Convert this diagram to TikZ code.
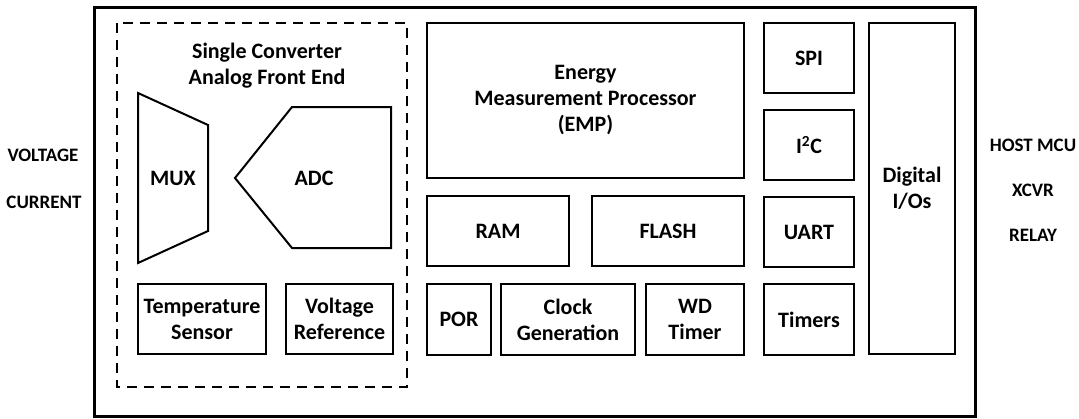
\documentclass[tikz,border=0pt]{standalone}
\usepackage{fontspec}
\setmainfont{Carlito}
\newcommand{\blkfont}{\fontsize{22}{26}\selectfont\bfseries}
\newcommand{\sigfont}{\fontsize{19}{24}\selectfont\bfseries}

\begin{document}
\begin{tikzpicture}[x=1pt,y=-1pt,
        blk/.style={draw, line width=2pt, inner sep=0pt, align=center, font=\blkfont},
        lbl/.style={inner sep=0pt, align=center, font=\blkfont},
        sig/.style={inner sep=0pt, align=center, font=\sigfont}]
        \useasboundingbox (0,0) rectangle (1079,418);
        % chip outline and analog front end
        \draw[line width=3pt] (94,7) rectangle (975,416);
        \draw[line width=2pt, dash pattern=on 10pt off 7pt] (117,23) rectangle (407,387);
        \node[lbl] (afe) at (267,66) {Single Converter\\Analog Front End};
        \draw[line width=2pt] (138,93) -- (208,125) -- (208,231) -- (138,263) -- cycle;
        \node[lbl] (mux) at (173,178) {MUX};
        \draw[line width=2pt] (235,178) -- (292,107) -- (391,107) -- (391,248) -- (292,248) -- cycle;
        \node[lbl] (adc) at (314,178) {ADC};
        \node[blk, minimum width=128pt, minimum height=70pt] (temp) at (202,319) {Temperature\\Sensor};
        \node[blk, minimum width=107pt, minimum height=70pt] (vref) at (339.5,319) {Voltage\\Reference};
        % digital core
        \node[blk, minimum width=317pt, minimum height=155pt] (emp) at (585.5,100.5) {Energy\\Measurement Processor\\(EMP)};
        \node[blk, minimum width=142pt, minimum height=70pt] (ram) at (498,231) {RAM};
        \node[blk, minimum width=152pt, minimum height=70pt] (flash) at (668,231) {FLASH};
        \node[blk, minimum width=64pt, minimum height=71pt] (por) at (459,319.5) {POR};
        \node[blk, minimum width=134pt, minimum height=71pt] (clk) at (568,319.5) {Clock\\Generation};
        \node[blk, minimum width=98pt, minimum height=71pt] (wdt) at (695,319.5) {WD\\Timer};
        % peripherals
        \node[blk, minimum width=90pt, minimum height=70pt] (spi) at (809,58) {SPI};
        \node[blk, minimum width=90pt, minimum height=70pt] (iic) at (809,145) {I\textsuperscript{2}C};
        \node[blk, minimum width=90pt, minimum height=70pt] (uart) at (809,232) {UART};
        \node[blk, minimum width=90pt, minimum height=71pt] (tmr) at (809,319.5) {Timers};
        \node[blk, minimum width=86pt, minimum height=331pt] (dio) at (912,188.5) {Digital\\I/Os};
        % outside signals
        \node[sig] (volt) at (43,155) {VOLTAGE};
        \node[sig] (curr) at (44,202) {CURRENT};
        \node[sig] (host) at (1033,145) {HOST MCU};
        \node[sig] (xcvr) at (1033,190) {XCVR};
        \node[sig] (relay) at (1033,235) {RELAY};
\end{tikzpicture}
\end{document}
